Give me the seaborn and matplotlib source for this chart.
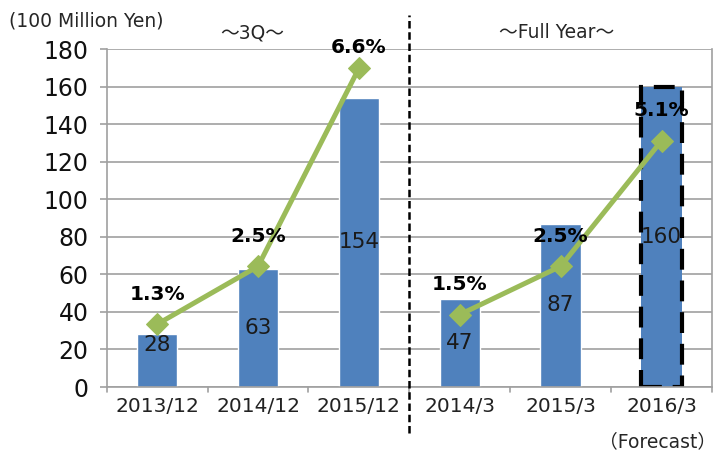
import matplotlib
matplotlib.use("Agg")
import matplotlib.pyplot as plt
import seaborn as sns
import pandas as pd
import numpy as np

categories = ["2013/12", "2014/12", "2015/12", "2014/3", "2015/3", "2016/3"]
period = ["3Q", "3Q", "3Q", "FY", "FY", "FY"]
sales = [28, 63, 154, 47, 87, 160]
margin_pct = [1.3, 2.5, 6.6, 1.5, 2.5, 5.1]
pct_labels = ["1.3%", "2.5%", "6.6%", "1.5%", "2.5%", "5.1%"]
yticks = [0, 20, 40, 60, 80, 100, 120, 140, 160, 180]

sns.set_theme(style="white")
plt.rcParams['font.family'] = ['DejaVu Sans', 'Noto Sans CJK JP']

BLUE = "#4F81BD"
GREEN = "#9BBB59"
GRID = "#A0A0A0"

df = pd.DataFrame({"cat": categories, "sales": sales, "pct": margin_pct,
                   "period": period, "pos": np.arange(len(categories))})

fig = plt.figure(figsize=(7.21, 4.58), dpi=100)
ax = fig.add_axes([0.148, 0.155, 0.8395, 0.738])

sns.barplot(data=df, x="cat", y="sales", color=BLUE, width=0.4, saturation=1,
            ax=ax, zorder=2)
ax.set_xlim(-0.5, 5.5)
ax.set_ylim(0, 180)
ax.set_yticks(yticks)
ax.set_yticklabels([str(t) for t in yticks], fontsize=17)
ax.set_xlabel("")
ax.set_ylabel("")
ax.tick_params(axis="x", labelsize=14.5, length=0, pad=7, labelcolor="#222222")
ax.tick_params(axis="y", length=5, color=GRID, width=1.2, left=True, pad=8,
               labelcolor="#111111")
ax.yaxis.grid(True, color=GRID, linewidth=1.2, zorder=0)
ax.set_axisbelow(True)
for s in ["left", "bottom", "right"]:
    ax.spines[s].set_color(GRID)
    ax.spines[s].set_linewidth(1.2)
    ax.spines[s].set_visible(True)
ax.spines["top"].set_visible(False)

# category boundary ticks on the x axis
for b in np.arange(-0.5, 6.0, 1.0):
    ax.plot([b, b], [0, -2.5], color=GRID, lw=1.2, clip_on=False, zorder=3)

# dashed outline on forecast bar
patch = ax.patches[5]
patch.set_edgecolor("black")
patch.set_linewidth(3)
patch.set_linestyle((0, (5, 2.6)))

# bar value labels
for i, v in enumerate(sales):
    ax.text(i, max(v / 2.0, 22.5), str(v), ha="center", va="center",
            fontsize=15.5, color="#1a1a1a", zorder=5)

# secondary axis for percentages
ax2 = ax.twinx()
ax2.set_ylim(0, 7)
sns.lineplot(data=df, x="pos", y="pct", units="period", estimator=None,
             color=GREEN, lw=3.6, marker="D", markersize=11,
             markeredgecolor=GREEN, ax=ax2, zorder=4)
ax2.set_xlim(-0.5, 5.5)
ax2.set_yticks([])
ax2.set_ylabel("")
for s in ax2.spines.values():
    s.set_visible(False)

scale = 180 / 7.0
for i, (p, lab) in enumerate(zip(margin_pct, pct_labels)):
    yv = min(p * scale + 16, 181)
    ax2.text(i, yv / scale, lab, ha="center", va="center", fontsize=14.5,
             fontweight="bold", color="black", zorder=6)

# separator dashed line
ax.plot([2.5, 2.5], [-24.5, 198], color="black", lw=1.8,
        linestyle=(0, (3, 1.5)), clip_on=False, zorder=6)

fig.text(0.012, 0.955, "(100 Million Yen)", fontsize=13.5, ha="left", va="center")
fig.text(0.35, 0.928, "～3Q～", fontsize=13.5, ha="center", va="center")
fig.text(0.772, 0.928, "～Full Year～", fontsize=13.5, ha="center", va="center")
fig.text(0.993, 0.035, "（Forecast）", fontsize=13.5, ha="right", va="center")

fig.savefig("out.png", dpi=100)
